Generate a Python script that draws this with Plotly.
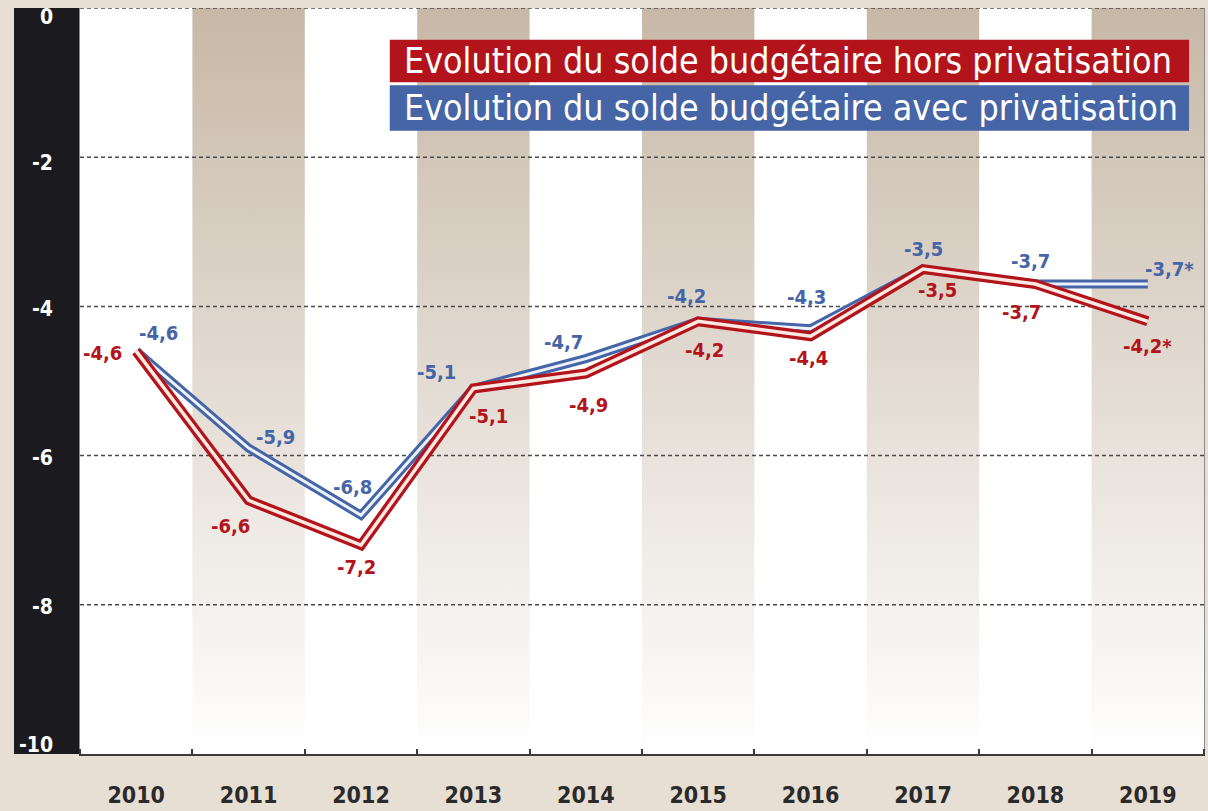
import plotly.graph_objects as go

years = ["2010", "2011", "2012", "2013", "2014", "2015", "2016", "2017", "2018", "2019"]
hors = [-4.6, -6.6, -7.2, -5.1, -4.9, -4.2, -4.4, -3.5, -3.7, -4.2]
avec = [-4.6, -5.9, -6.8, -5.1, -4.7, -4.2, -4.3, -3.5, -3.7, -3.7]
hors_labels = ["-4,6", "-6,6", "-7,2", "-5,1", "-4,9", "-4,2", "-4,4", "-3,5", "-3,7", "-4,2*"]
avec_labels = ["-4,6", "-5,9", "-6,8", "-5,1", "-4,7", "-4,2", "-4,3", "-3,5", "-3,7", "-3,7*"]
y_ticks = [0, -2, -4, -6, -8, -10]
y_ticktext = ["0", "-2", "-4", "-6", "-8", "-10"]
legend_hors = "Evolution du solde budgétaire hors privatisation"
legend_avec = "Evolution du solde budgétaire avec privatisation"

# label offsets (px): (dx, dy) with dy positive = up
avec_off = [(22, 18), (27, 11), (-9, 28), (-37, 16), (-22, 17), (-12, 25), (-4, 32), (0, 20), (-5, 23), (22, 15)]
hors_off = [(-34, -2), (-18, -26), (-5, -22), (15, -28), (3, -31), (6, -29), (-2, -22), (14, -21), (-14, -28), (0, -25)]
ytick_shift = [-9, -6, -3, -2, -2, 9]

RED = "#b3141b"
BLUE = "#4565a6"
TAN = "#c7b8a7"
BG = "#e7ded4"
FONT = "DejaVu Sans Condensed, Liberation Sans Narrow, Arial Narrow, sans-serif"

n = len(years)
xs = list(range(n))
ymin, ymax = y_ticks[-1], y_ticks[0]

fig = go.Figure()

# alternating gradient stripes (odd columns)
for i in xs:
    if i % 2 == 1:
        fig.add_trace(go.Scatter(
            x=[i - 0.5, i + 0.5, i + 0.5, i - 0.5, i - 0.5],
            y=[ymin, ymin, ymax, ymax, ymin],
            mode="lines", line=dict(width=0), fill="toself",
            fillgradient=dict(type="vertical", colorscale=[[0, "#ffffff"], [1, TAN]]),
            hoverinfo="skip", showlegend=False))

# dashed grid lines
for t in y_ticks[:-1]:
    fig.add_trace(go.Scatter(
        x=[-0.5, n - 0.5], y=[t, t], mode="lines",
        line=dict(color="#4a4a4a", width=1.5, dash="4px,3px"),
        hoverinfo="skip", showlegend=False))

# double lines: blue then red
for vals, col, inner, w_out, w_in in [(avec, BLUE, "#eef2fb", 9, 3), (hors, RED, "#fbe9e2", 10, 3.5)]:
    fig.add_trace(go.Scatter(x=xs, y=vals, mode="lines",
                             line=dict(color=col, width=w_out), hoverinfo="skip", showlegend=False))
    fig.add_trace(go.Scatter(x=xs, y=vals, mode="lines",
                             line=dict(color=inner, width=w_in), hoverinfo="skip", showlegend=False))

annotations = []
for vals, labels, offs, col in [(avec, avec_labels, avec_off, BLUE), (hors, hors_labels, hors_off, RED)]:
    for i, (v, lab, (dx, dy)) in enumerate(zip(vals, labels, offs)):
        annotations.append(dict(
            x=i, y=v, xref="x", yref="y", text="<b>%s</b>" % lab, showarrow=False,
            xshift=dx, yshift=dy, font=dict(family=FONT, size=20, color=col)))

# y tick labels inside the black band
for t, lab, sh in zip(y_ticks, y_ticktext, ytick_shift):
    annotations.append(dict(
        x=-0.0225, y=t, xref="paper", yref="y", xanchor="right", yanchor="middle",
        text="<b>%s</b>" % lab, showarrow=False, yshift=sh,
        font=dict(family=FONT, size=21, color="white")))

shapes = [
    dict(type="rect", xref="paper", yref="paper", x0=-0.0587, x1=0, y0=0, y1=1,
         fillcolor="#1b1b1f", line=dict(width=0), layer="below"),
    dict(type="rect", xref="paper", yref="paper", x0=0.2756, x1=0.9867, y0=0.9005, y1=0.9576,
         fillcolor=RED, line=dict(width=0), layer="above"),
    dict(type="rect", xref="paper", yref="paper", x0=0.2756, x1=0.9867, y0=0.8355, y1=0.8965,
         fillcolor=BLUE, line=dict(width=0), layer="above"),
]
annotations.append(dict(x=0.2862, y=0.929, xref="paper", yref="paper", xanchor="left", yanchor="middle",
                        text=legend_hors, showarrow=False, font=dict(family=FONT, size=35.5, color="white")))
annotations.append(dict(x=0.2862, y=0.866, xref="paper", yref="paper", xanchor="left", yanchor="middle",
                        text=legend_avec, showarrow=False, font=dict(family=FONT, size=35.5, color="white")))

fig.update_layout(
    width=1208, height=811,
    margin=dict(l=80, r=3, t=8, b=49),
    paper_bgcolor=BG, plot_bgcolor="white",
    shapes=shapes, annotations=annotations, showlegend=False,
    xaxis=dict(range=[-0.5, n - 0.5], tickvals=xs, ticktext=["<b>%s</b>" % y for y in years], ticks="",
               showgrid=False, zeroline=False, showline=True, linecolor="#3a3a3a", linewidth=1.5,
               tickfont=dict(family=FONT, size=23, color="#2a2a2a"), ticklabelstandoff=20,
               minor=dict(tick0=-0.5, dtick=1, ticks="inside", ticklen=5, tickcolor="#3a3a3a",
                          tickwidth=2, showgrid=False),
               fixedrange=True),
    yaxis=dict(range=[ymin, ymax], showticklabels=False,
               ticks="", showgrid=False, zeroline=False, showline=True, mirror=True,
               linecolor="#8a8a8a", linewidth=1, fixedrange=True),
    font=dict(family=FONT),
)

fig.write_html("out.html", config={"displayModeBar": False})

with open("out.html", "r", encoding="utf-8") as f:
    html = f.read()
html = html.replace("<head>", "<head><style>html,body{margin:0;padding:0;overflow:hidden;}</style>", 1)
with open("out.html", "w", encoding="utf-8") as f:
    f.write(html)
